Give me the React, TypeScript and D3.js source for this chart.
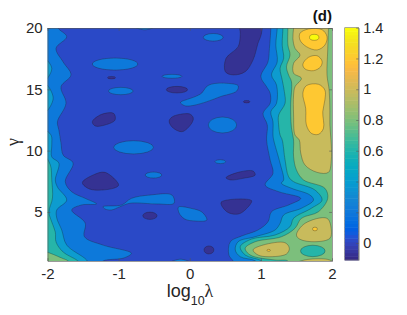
import * as d3 from 'd3';
import React, { useEffect, useRef } from 'react';

type Pt = [number, number];
type Oval = [number, number, number, number]; // logLambda, gamma, half width, half height

const xTicks = [-2, -1, 0, 1, 2];
const yTicks = [5, 10, 15, 20];
const barTicks = [0, 0.2, 0.4, 0.6, 0.8, 1, 1.2, 1.4];
const barRange = [-0.11, 1.4];

// contour lines, as [log10(lambda), gamma]
const below0Rings: Pt[][] = [
  [[-1.37, 12.36], [-1.24, 12.96], [-1.07, 13.04], [-1.05, 12.5], [-1.19, 12.09], [-1.33, 12.01]],
  [[-0.29, 12.42], [-0.25, 12.74], [-0.18, 12.91], [0, 12.99], [0.05, 12.66], [0.02, 12.17], [-0.11, 11.54], [-0.25, 11.93]],
  [[0.71, 20.5], [1, 20.5], [1.01, 19.59], [0.96, 18.75], [0.89, 17.39], [0.78, 16.44], [0.61, 16.17], [0.5, 16.44], [0.51, 17.53], [0.68, 18.48], [0.71, 19.44]],
  [[-1.51, 7.39], [-1.36, 8.01], [-1.19, 8.23], [-1, 7.2], [-1.07, 6.93], [-1.4, 6.85]],
  [[0.51, 7.79], [0.68, 8.23], [0.89, 8.34], [0.92, 8.01], [0.75, 7.74], [0.57, 7.61]],
  [[0.44, 5.79], [0.87, 5.92], [0.75, 5.02], [0.66, 4.81], [0.52, 5.02]],
];
const below0Ovals: Oval[] = [
  [-1.1, 15.95, 0.056, 0.1],
  [-0.18, 14.97, 0.15, 0.27],
  [0.8, 13.99, 0.046, 0.1],
  [-0.56, 4.69, 0.1, 0.3],
  [0.27, 1.9, 0.07, 0.33],
];

const level02Rings: Pt[][] = [
  [[-1.85, 20.5], [-1.85, 20], [-1.73, 19.29], [-1.88, 18.34], [-1.78, 17.23], [-1.67, 16.17], [-1.81, 15.21], [-1.74, 13.86], [-1.86, 12.36], [-1.84, 11.68], [-1.81, 10.62], [-1.78, 9.64], [-1.64, 8.99], [-1.75, 7.47], [-1.66, 6.65], [-1.47, 6.11], [-1.31, 5.65], [-1.52, 5.57], [-1.66, 5.16], [-1.47, 4.1], [-1.48, 2.98], [-1.22, 2.3], [-0.82, 1.63], [-0.93, 1.24], [-1.22, 1], [-1.3, 0.5], [-2.3, 0.5], [-2.3, 20.5]],
  [[1.14, 20.5], [1.14, 20], [1.12, 18.34], [1.1, 17.25], [1, 16.03], [1.08, 15.21], [1.13, 14.68], [1.13, 13.86], [1.03, 13.04], [1.09, 12.09], [1.08, 10.87], [1.13, 9.24], [1.17, 8.15], [1.06, 7.2], [1.25, 6.65], [1.56, 6.11], [1.39, 5.57], [1.15, 5.02], [1.1, 4.2], [0.96, 3.53], [0.73, 3.04], [0.57, 2.57], [0.55, 1.49], [0.61, 1], [0.65, 0.5], [2.3, 0.5], [2.3, 20.5]],
  [[-0.13, 13.93], [-0.02, 14.21], [0.06, 14.37], [0.17, 14.7], [0.23, 15.19], [0.31, 15.43], [0.52, 15.49], [0.68, 15.29], [0.66, 14.86], [0.43, 14.4], [0.21, 13.93], [0, 13.64], [-0.08, 13.68]],
  [[-1.22, 5.43], [-0.96, 5.57], [-0.82, 6.11], [-0.56, 6.38], [-0.25, 6.38], [-0.22, 5.71], [-0.46, 5.65], [-0.84, 5.71], [-0.98, 5.43], [-1.1, 5.16], [-1.19, 5.24]],
  [[-0.16, 5.4], [-0.1, 5.43], [0, 5.32], [0.17, 5], [0.24, 4.34], [0.07, 4.26], [-0.07, 4.42], [-0.15, 4.91]],
  [[-0.27, 0.9], [-0.13, 1.15], [0.01, 0.9]],
  [[-0.77, 20.1], [-0.63, 19.85], [-0.5, 20.1], [-0.63, 20.4]],
];
const level02Ovals: Oval[] = [
  [-1.05, 17.06, 0.32, 0.49],
  [-0.97, 14.86, 0.173, 0.3],
  [-0.79, 10.27, 0.28, 0.54],
  [-0.25, 16.06, 0.14, 0.16],
  [0.33, 19.24, 0.14, 0.31],
  [0.46, 12.09, 0.2, 0.65],
  [-0.51, 8.01, 0.117, 0.245],
  [0.43, 9.1, 0.075, 0.16],
];

const level04Rings: Pt[][] = [
  [[-2.05, 17.5], [-1.94, 16.7], [-2.05, 15.7], [-2.2, 16.6]],
  [[-2.05, 15.52], [-1.92, 14.29], [-2.05, 13.07], [-2.2, 14.3]],
  [[-2.05, 11.7], [-1.95, 11.27], [-1.94, 10.46], [-1.94, 9.48], [-1.84, 8.99], [-1.89, 7.61], [-1.86, 7.03], [-1.73, 5.97], [-1.87, 5.16], [-1.87, 4.51], [-1.8, 3.53], [-1.73, 2.3], [-1.45, 1.08], [-1.4, 0.5], [-2.3, 0.5], [-2.3, 11.7]],
  [[1.23, 20.5], [1.23, 20], [1.21, 18.61], [1.23, 17.25], [1.15, 16.17], [1.22, 15.35], [1.22, 13.86], [1.14, 13.17], [1.17, 12.36], [1.17, 11.27], [1.18, 10.87], [1.27, 8.97], [1.32, 7.61], [1.29, 7.34], [1.43, 6.93], [1.69, 6.38], [1.74, 5.97], [1.57, 5.3], [1.32, 4.75], [1.27, 4.07], [1.2, 3.53], [0.92, 2.98], [0.68, 2.57], [0.64, 1.9], [0.71, 1.35], [0.92, 1.02], [1, 0.5], [2.3, 0.5], [2.3, 20.5]],
];

const level06Rings: Pt[][] = [
  [[-2.05, 9.56], [-1.96, 8.83], [-1.94, 7.61], [-1.93, 6.14], [-1.98, 5], [-1.94, 4.18], [-1.89, 3.36], [-1.88, 2.55], [-1.78, 1.73], [-1.57, 1], [-1.5, 0.5], [-2.3, 0.5], [-2.3, 9.56]],
  [[1.31, 20.5], [1.31, 20], [1.3, 18.61], [1.32, 17.53], [1.27, 16.71], [1.3, 15.76], [1.33, 14.81], [1.34, 13.86], [1.25, 12.9], [1.25, 12.09], [1.27, 11.27], [1.3, 10.87], [1.34, 9.24], [1.39, 7.87], [1.46, 7.47], [1.76, 6.79], [1.86, 5.97], [1.71, 5.3], [1.46, 4.48], [1.41, 3.8], [1.2, 3.12], [0.87, 2.79], [0.71, 2.17], [0.78, 1.49], [1.01, 1.02], [1.1, 0.5], [2.3, 0.5], [2.3, 20.5]],
];

const level08Rings: Pt[][] = [
  [[-2.05, 1.78], [-1.8, 1.24], [-1.71, 1], [-1.65, 0.5], [-2.3, 0.5], [-2.3, 1.78]],
  [[1.38, 20.5], [1.38, 20], [1.38, 18.61], [1.41, 17.8], [1.36, 16.84], [1.39, 16.17], [1.43, 15.62], [1.42, 13.86], [1.42, 12.9], [1.43, 11.85], [1.46, 10.87], [1.46, 9.5], [1.5, 8.42], [1.6, 7.61], [1.9, 6.93], [1.94, 6.11], [1.81, 5.02], [1.57, 4.48], [1.48, 3.67], [1.29, 2.98], [0.92, 2.57], [0.78, 2.04], [0.85, 1.49], [1.2, 1.08], [1.38, 1], [1.4, 0.5], [2.3, 0.5], [2.3, 20.5]],
];

// dip inside the green area, near the bottom right
const dip06Ovals: Oval[] = [[1.73, 1.82, 0.173, 0.465]];

const level10Rings: Pt[][] = [
  [[1.46, 20.5], [1.46, 20], [1.45, 19.16], [1.48, 18.34], [1.55, 17.8], [1.46, 17.12], [1.46, 16.31], [1.57, 15.9], [1.48, 15.21], [1.46, 14.54], [1.46, 12.9], [1.48, 11.27], [1.54, 10.87], [1.56, 9.81], [1.62, 8.83], [1.79, 8.23], [1.95, 8.23], [1.99, 9.24], [1.99, 10.46], [1.97, 12.09], [1.97, 13.31], [1.96, 14.94], [1.93, 16.17], [1.94, 18.21], [1.95, 20], [1.95, 20.5]],
  [[1.5, 3.12], [1.62, 4.07], [1.93, 4.48], [1.99, 3.53], [1.97, 2.85], [1.76, 2.57], [1.55, 2.77]],
  [[0.89, 1.9], [1.03, 2.3], [1.34, 2.49], [1.4, 2.04], [1.36, 1.57], [1.1, 1.35], [0.96, 1.49]],
  [[1.52, 0.9], [1.66, 1.13], [1.94, 1.13], [2.02, 0.9]],
];

const level12Rings: Pt[][] = [
  [[1.55, 19.57], [1.67, 19.92], [1.86, 19.86], [1.93, 19.29], [1.9, 18.61], [1.79, 18.21], [1.64, 18.48], [1.55, 19.02]],
  [[1.59, 17.04], [1.67, 17.61], [1.79, 17.74], [1.86, 17.31], [1.84, 16.84], [1.74, 16.52], [1.62, 16.66]],
  [[1.59, 14.68], [1.64, 15.3], [1.81, 15.41], [1.9, 14.94], [1.9, 14.13], [1.87, 13.17], [1.88, 11.82], [1.81, 11.33], [1.71, 11.41], [1.64, 12.09], [1.63, 13.45]],
];
const level12Ovals: Oval[] = [
  [1.76, 3.61, 0.035, 0.15],
  [1.11, 1.87, 0.024, 0.08],
];

const level14Ovals: Oval[] = [[1.75, 19.24, 0.066, 0.245]];

// MATLAB parula
const parula = [
  '#352a87', '#363093', '#3637a0', '#353dad', '#3243ba', '#2c4ac7', '#2053d4', '#0f5cdd', '#035fe1', '#0268e1',
  '#046de0', '#0871de', '#0d75dc', '#1079da', '#127dd8', '#1481d6', '#1485d4', '#1389d2', '#108ed2', '#0c93d2',
  '#0998d1', '#079ccf', '#06a0cd', '#06a3ca', '#06a7c6', '#07a9c2', '#0aacbe', '#0faeb9', '#15b1b4', '#1db3af',
  '#25b5a9', '#2eb7a4', '#38b99e', '#42bb98', '#4dbc92', '#59bd8c', '#65be86', '#71bf80', '#7cbf7b', '#87bf77',
  '#91bf72', '#9bbf6f', '#a5be6b', '#aebd67', '#b7bd64', '#c0bc60', '#c8bb5c', '#d1bb59', '#d9ba56', '#e1b952',
  '#e9b94e', '#f1b94a', '#f8ba44', '#fdbe3d', '#ffc337', '#fec832', '#fccd2e', '#fad32a', '#f7d826', '#f5de21',
  '#f5e41d', '#f5eb18', '#f6f313', '#f9fb0e',
];

const barColor = (v: number) => {
  const t = (v - barRange[0]) / (barRange[1] - barRange[0]);
  return parula[Math.round(t * (parula.length - 1))];
};

const bands: { level: number; rings: Pt[][]; ovals: Oval[] }[] = [
  { level: -0.08, rings: below0Rings, ovals: below0Ovals },
  { level: 0.2, rings: level02Rings, ovals: level02Ovals },
  { level: 0.4, rings: level04Rings, ovals: [] },
  { level: 0.6, rings: level06Rings, ovals: [] },
  { level: 0.8, rings: level08Rings, ovals: [] },
  { level: 0.6, rings: [], ovals: dip06Ovals },
  { level: 1, rings: level10Rings, ovals: [] },
  { level: 1.2, rings: level12Rings, ovals: level12Ovals },
  { level: 1.4, rings: [], ovals: level14Ovals },
];

const App = () => {
  const ref = useRef<SVGSVGElement>(null);

  useEffect(() => {
    const svg = d3.select(ref.current);
    svg.selectAll('*').remove();

    const x = d3.scaleLinear().domain([-2, 2]).range([47.5, 332]);
    const y = d3.scaleLinear().domain([1, 20]).range([261, 28]);
    const bar = d3.scaleLinear().domain(barRange).range([260, 27.7]);

    svg.append('clipPath').attr('id', 'plot')
      .append('rect')
      .attr('x', 47.5).attr('y', 28).attr('width', 284.5).attr('height', 233);

    // the reference is a soft, resampled image
    svg.append('filter').attr('id', 'soft')
      .append('feGaussianBlur').attr('stdDeviation', 0.35);

    const field = svg.append('g')
      .attr('clip-path', 'url(#plot)')
      .append('g')
      .attr('filter', 'url(#soft)');
    field.append('rect')
      .attr('x', 47.5).attr('y', 28).attr('width', 284.5).attr('height', 233)
      .attr('fill', barColor(0));

    const ring = d3.line<Pt>()
      .x(d => x(d[0]))
      .y(d => y(d[1]))
      .curve(d3.curveCatmullRomClosed);

    const stroke = (sel: any) => sel
      .attr('stroke', '#1c1c1c')
      .attr('stroke-opacity', 0.5)
      .attr('stroke-width', 0.6);

    bands.forEach(band => {
      band.rings.forEach(r => {
        field.append('path')
          .attr('d', ring(r))
          .attr('fill', barColor(band.level))
          .call(stroke);
      });
      band.ovals.forEach(o => {
        field.append('ellipse')
          .attr('cx', x(o[0]))
          .attr('cy', y(o[1]))
          .attr('rx', x(o[0] + o[2]) - x(o[0]))
          .attr('ry', y(o[1] - o[3]) - y(o[1]))
          .attr('fill', barColor(band.level))
          .call(stroke);
      });
    });

    const styleAxis = (g: any, size: number) => {
      g.select('.domain').attr('stroke', '#555').attr('stroke-width', 0.6);
      g.selectAll('.tick line').attr('stroke', '#555').attr('stroke-width', 0.6);
      g.selectAll('text')
        .attr('fill', '#262626')
        .style('font-family', '"Liberation Sans", Arial, sans-serif')
        .style('font-size', `${size}px`);
    };

    svg.append('g')
      .attr('transform', 'translate(0,261)')
      .call(d3.axisBottom(x).tickValues(xTicks).tickFormat(d => String(d)).tickSizeInner(-2.8).tickSizeOuter(0).tickPadding(7.3))
      .call(styleAxis, 15);
    svg.append('g')
      .attr('transform', 'translate(47.5,0)')
      .call(d3.axisLeft(y).tickValues(yTicks).tickFormat(d => String(d)).tickSizeInner(-2.8).tickSizeOuter(0).tickPadding(4.8))
      .call(styleAxis, 15);
    // box lines on the top and right
    svg.append('g')
      .attr('transform', 'translate(0,28)')
      .call(d3.axisTop(x).tickValues(xTicks).tickFormat(() => '').tickSizeInner(-2.8).tickSizeOuter(0))
      .call(styleAxis, 15);
    svg.append('g')
      .attr('transform', 'translate(332,0)')
      .call(d3.axisRight(y).tickValues(yTicks).tickFormat(() => '').tickSizeInner(-2.8).tickSizeOuter(0))
      .call(styleAxis, 15);

    // colorbar
    const barX = 344.7;
    const barW = 14;
    parula.forEach((c, i) => {
      const lo = barRange[0] + (i / parula.length) * (barRange[1] - barRange[0]);
      const hi = barRange[0] + ((i + 1) / parula.length) * (barRange[1] - barRange[0]);
      svg.append('rect')
        .attr('x', barX).attr('width', barW)
        .attr('y', bar(hi)).attr('height', bar(lo) - bar(hi) + 0.5)
        .attr('fill', c);
    });
    svg.append('rect')
      .attr('x', barX).attr('y', 27.7).attr('width', barW).attr('height', 232.3)
      .attr('fill', 'none').attr('stroke', '#777').attr('stroke-width', 0.6);
    svg.append('g')
      .attr('transform', `translate(${barX + barW},0)`)
      .call(d3.axisRight(bar).tickValues(barTicks).tickFormat(d => String(d)).tickSizeInner(-2.5).tickSizeOuter(0).tickPadding(4.5))
      .call(styleAxis, 14.5);

    const label = svg.append('text')
      .attr('x', 190).attr('y', 297)
      .attr('text-anchor', 'middle')
      .attr('fill', '#262626')
      .style('font-family', '"Liberation Sans", Arial, sans-serif')
      .style('font-size', '18px');
    label.append('tspan').text('log');
    label.append('tspan').attr('dy', 7.5).style('font-size', '12.5px').text('10');
    label.append('tspan').attr('dy', -7.5).style('font-family', '"Liberation Serif", serif').text('λ');

    svg.append('text')
      .attr('transform', 'translate(19,142) rotate(-90)')
      .attr('text-anchor', 'middle')
      .attr('fill', '#262626')
      .style('font-family', '"Liberation Serif", serif')
      .style('font-size', '18px')
      .text('γ');

    svg.append('text')
      .attr('x', 332).attr('y', 20.5)
      .attr('text-anchor', 'end')
      .attr('fill', '#111')
      .style('font-family', '"Liberation Sans", Arial, sans-serif')
      .style('font-size', '15px')
      .style('font-weight', 'bold')
      .text('(d)');
  }, []);

  return (
    <svg ref={ref} width={407} height={315} style={{ position: 'absolute', left: 0, top: 0 }} />
  );
};

export default App;
